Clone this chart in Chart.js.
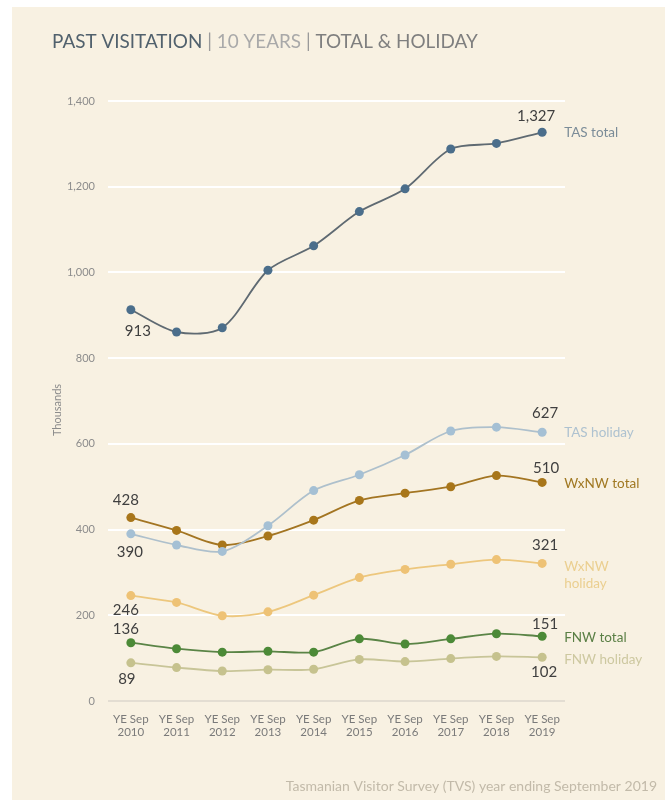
<!DOCTYPE html>
<html>
<head>
<meta charset="utf-8">
<script src="https://cdn.jsdelivr.net/npm/chart.js@4.4.1/dist/chart.umd.min.js"></script>
<style>
  html, body { margin: 0; padding: 0; background: #ffffff; }
  #wrap { position: relative; width: 665px; height: 800px; }
</style>
</head>
<body>
<div id="wrap"><canvas id="c"></canvas></div>
<script>
// ---- data ----
const years = ['2010','2011','2012','2013','2014','2015','2016','2017','2018','2019'];
const categories = years.map(y => ['YE Sep', y]);
const yTicks = [0, 200, 400, 600, 800, 1000, 1200, 1400];

const tasTotal    = [913, 861, 871, 1005, 1062, 1142, 1195, 1288, 1301, 1327];
const tasHoliday  = [390, 364, 349, 409, 491, 528, 574, 630, 639, 627];
const wxnwTotal   = [428, 398, 364, 385, 422, 468, 485, 500, 526, 510];
const wxnwHoliday = [246, 230, 199, 208, 247, 288, 307, 319, 330, 321];
const fnwTotal    = [136, 122, 114, 116, 114, 145, 133, 145, 157, 151];
const fnwHoliday  = [89, 78, 70, 73, 74, 97, 92, 99, 104, 102];

const seriesNames = [['TAS total'], ['TAS holiday'], ['WxNW total'], ['WxNW', 'holiday'], ['FNW total'], ['FNW holiday']];

const titleParts = [
  ['PAST VISITATION', '#51616d'],
  [' | ', '#9a9a9a'],
  ['10 YEARS', '#a9a9a9'],
  [' | ', '#9a9a9a'],
  ['TOTAL & HOLIDAY', '#7f7f7f']
];
const footerText = 'Tasmanian Visitor Survey (TVS) year ending September 2019';
const yTitle = 'Thousands';

// ---- styles ----
const FONT = 'Lato, "Open Sans", sans-serif';
const fmt = v => v.toLocaleString('en-US');

const styles = [
  { line: '#5f6a72', dot: '#4b6e8b', name: '#7b8c98', first: [7, 21], last: [-6, -16], nameDy: 0 },
  { line: '#aec0cc', dot: '#a5c0d4', name: '#aec2d0', first: [-1, 18], last: [3, -19], nameDy: 0 },
  { line: '#a37522', dot: '#a8761a', name: '#a07822', first: [-5, -17], last: [4, -14], nameDy: 1 },
  { line: '#edc77d', dot: '#eec275', name: '#ebcf90', first: [-5, 15], last: [3, -18], nameDy: 3 },
  { line: '#5a8446', dot: '#4c8a37', name: '#5a7f45', first: [-5, -14], last: [3, -12], nameDy: 1 },
  { line: '#c8c598', dot: '#c6c28e', name: '#cdc8a0', first: [-4, 16], last: [2, 15], nameDy: 2 }
];
const allSeries = [tasTotal, tasHoliday, wxnwTotal, wxnwHoliday, fnwTotal, fnwHoliday];

const datasets = allSeries.map((vals, i) => ({
  label: seriesNames[i].join(' '),
  data: vals,
  borderColor: styles[i].line,
  backgroundColor: styles[i].dot,
  pointBackgroundColor: styles[i].dot,
  pointBorderColor: styles[i].dot,
  pointRadius: 4.5,
  pointBorderWidth: 0,
  borderWidth: 1.8,
  tension: 0.3,
  fill: false
}));

const decor = {
  id: 'decor',
  beforeDraw(chart) {
    const ctx = chart.ctx;
    ctx.save();
    ctx.fillStyle = '#ffffff';
    ctx.fillRect(0, 0, chart.width, chart.height);
    ctx.fillStyle = '#f8f1e2';
    ctx.fillRect(12, 7, chart.width - 12, chart.height - 7);
    ctx.restore();
  },
  afterDraw(chart) {
    const ctx = chart.ctx;
    ctx.save();
    // title
    ctx.textBaseline = 'middle';
    let size = 20;
    ctx.font = size + 'px ' + FONT;
    const full = titleParts.map(p => p[0]).join('');
    const w = ctx.measureText(full).width;
    size = size * 426 / w;
    ctx.font = size + 'px ' + FONT;
    let x = 52;
    titleParts.forEach(p => {
      ctx.fillStyle = p[1];
      ctx.textAlign = 'left';
      ctx.fillText(p[0], x, 42);
      x += ctx.measureText(p[0]).width;
    });
    // footer
    ctx.font = '14px ' + FONT;
    ctx.fillStyle = '#c2baa9';
    ctx.textAlign = 'right';
    ctx.fillText(footerText, 657, 786);
    // y title
    ctx.save();
    ctx.translate(57, 410);
    ctx.rotate(-Math.PI / 2);
    ctx.textAlign = 'center';
    ctx.font = '11px ' + FONT;
    ctx.fillStyle = '#8c8c8c';
    ctx.fillText(yTitle, 0, 0);
    ctx.restore();
    // data labels & series names
    chart.data.datasets.forEach((ds, i) => {
      const meta = chart.getDatasetMeta(i);
      const pts = meta.data;
      const st = styles[i];
      const n = pts.length - 1;
      ctx.font = '15px ' + FONT;
      ctx.fillStyle = '#3f3f3f';
      ctx.textAlign = 'center';
      ctx.fillText(fmt(ds.data[0]), pts[0].x + st.first[0], pts[0].y + st.first[1]);
      ctx.fillText(fmt(ds.data[n]), pts[n].x + st.last[0], pts[n].y + st.last[1]);
      ctx.font = '13.5px ' + FONT;
      ctx.fillStyle = st.name;
      ctx.textAlign = 'left';
      seriesNames[i].forEach((line, k) => {
        ctx.fillText(line, pts[n].x + 22, pts[n].y + st.nameDy + k * 17);
      });
    });
    ctx.restore();
  }
};

new Chart(document.getElementById('c'), {
  type: 'line',
  data: { labels: categories, datasets },
  plugins: [decor],
  options: {
    responsive: true,
    maintainAspectRatio: false,
    animation: false,
    devicePixelRatio: 1,
    layout: { padding: { top: 101, right: 100, bottom: 0, left: 0 } },
    plugins: { legend: { display: false }, tooltip: { enabled: false }, title: { display: false } },
    scales: {
      x: {
        offset: true,
        grid: { display: false, drawTicks: false },
        border: { display: false },
        ticks: { color: '#7a7a7a', font: { family: FONT, size: 11.5 }, padding: 11, maxRotation: 0, autoSkip: false },
        afterFit(scale) { scale.height = 99; }
      },
      y: {
        min: 0, max: 1400,
        afterBuildTicks(scale) { scale.ticks = yTicks.map(v => ({ value: v })); },
        grid: {
          drawTicks: false,
          lineWidth: 2,
          color: c => (c.tick && c.tick.value === 0) ? '#e3ddd2' : '#ffffff'
        },
        border: { display: false },
        ticks: { color: '#8c8c8c', font: { family: FONT, size: 11 }, padding: 13, callback: v => fmt(v) },
        afterFit(scale) { scale.width = 108; }
      }
    }
  }
});
</script>
</body>
</html>
